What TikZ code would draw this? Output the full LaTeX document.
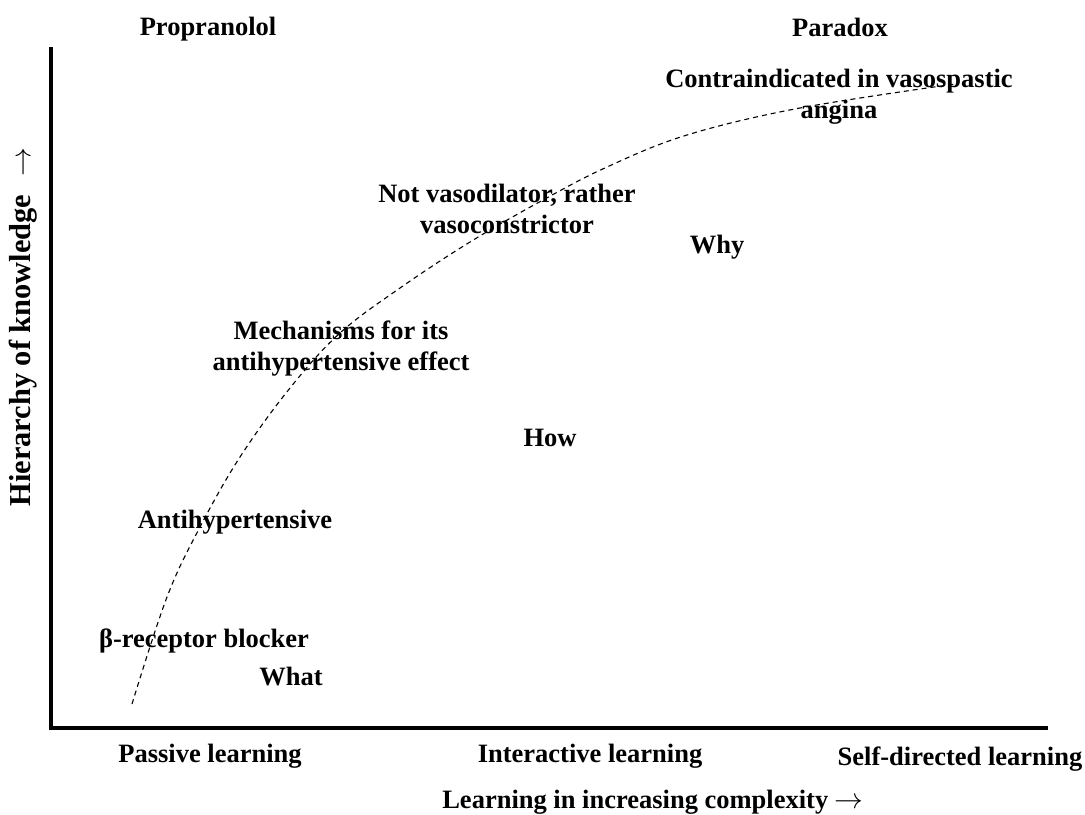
\documentclass[tikz,border=0pt]{standalone}
\usepackage{fontspec}
\setmainfont{Liberation Serif}
\begin{document}
\begin{tikzpicture}[x=0.5pt,y=-0.5pt,
  lbl/.style={font=\fontsize{13.25}{15.5}\selectfont\bfseries, inner sep=0pt, anchor=base, align=center},
  ylbl/.style={font=\fontsize{15.2}{18}\selectfont\bfseries, inner sep=0pt, rotate=90},
  axisline/.style={line width=1.8pt},
  trend/.style={line width=0.55pt, dash pattern=on 2.5pt off 2pt}]
\useasboundingbox (0,0) rectangle (1085,814);
% axes
\coordinate (ytop) at (51,47);
\coordinate (origin) at (51,728);
\coordinate (xend) at (1048,728);
\draw[axisline] (ytop) -- (origin) -- (xend);
% dashed curve
\draw[trend] plot[smooth, tension=0.6] coordinates {(132,704) (167,597) (200,527) (240,457) (290,388) (340,333) (400,288) (470,242) (543,200) (607,167) (687,135) (800,108) (955,84)};
% labels
\node[lbl] (prop) at (208,35) {Propranolol};
\node[lbl] (para) at (840,36) {Paradox};
\node[lbl] (contra) at (839,118) {Contraindicated in vasospastic\\angina};
\node[lbl] (notvaso) at (507,233) {Not vasodilator, rather\\vasoconstrictor};
\node[lbl] (why) at (717,253) {Why};
\node[lbl] (mech) at (341,370) {Mechanisms for its\\antihypertensive effect};
\node[lbl] (how) at (550,446) {How};
\node[lbl] (antihyp) at (235,528) {Antihypertensive};
\node[lbl] (beta) at (204,647) {β-receptor blocker};
\node[lbl] (what) at (291,685) {What};
\node[lbl] (passive) at (210,762) {Passive learning};
\node[lbl] (inter) at (590,762) {Interactive learning};
\node[lbl] (self) at (960,765) {Self-directed learning};
\node[lbl] (xlabel) at (653,808) {Learning in increasing complexity $\rightarrow$};
\node[ylbl] (ylabel) at (23,327) {Hierarchy of knowledge\hspace{0.6em}$\rightarrow$};
\end{tikzpicture}
\end{document}
